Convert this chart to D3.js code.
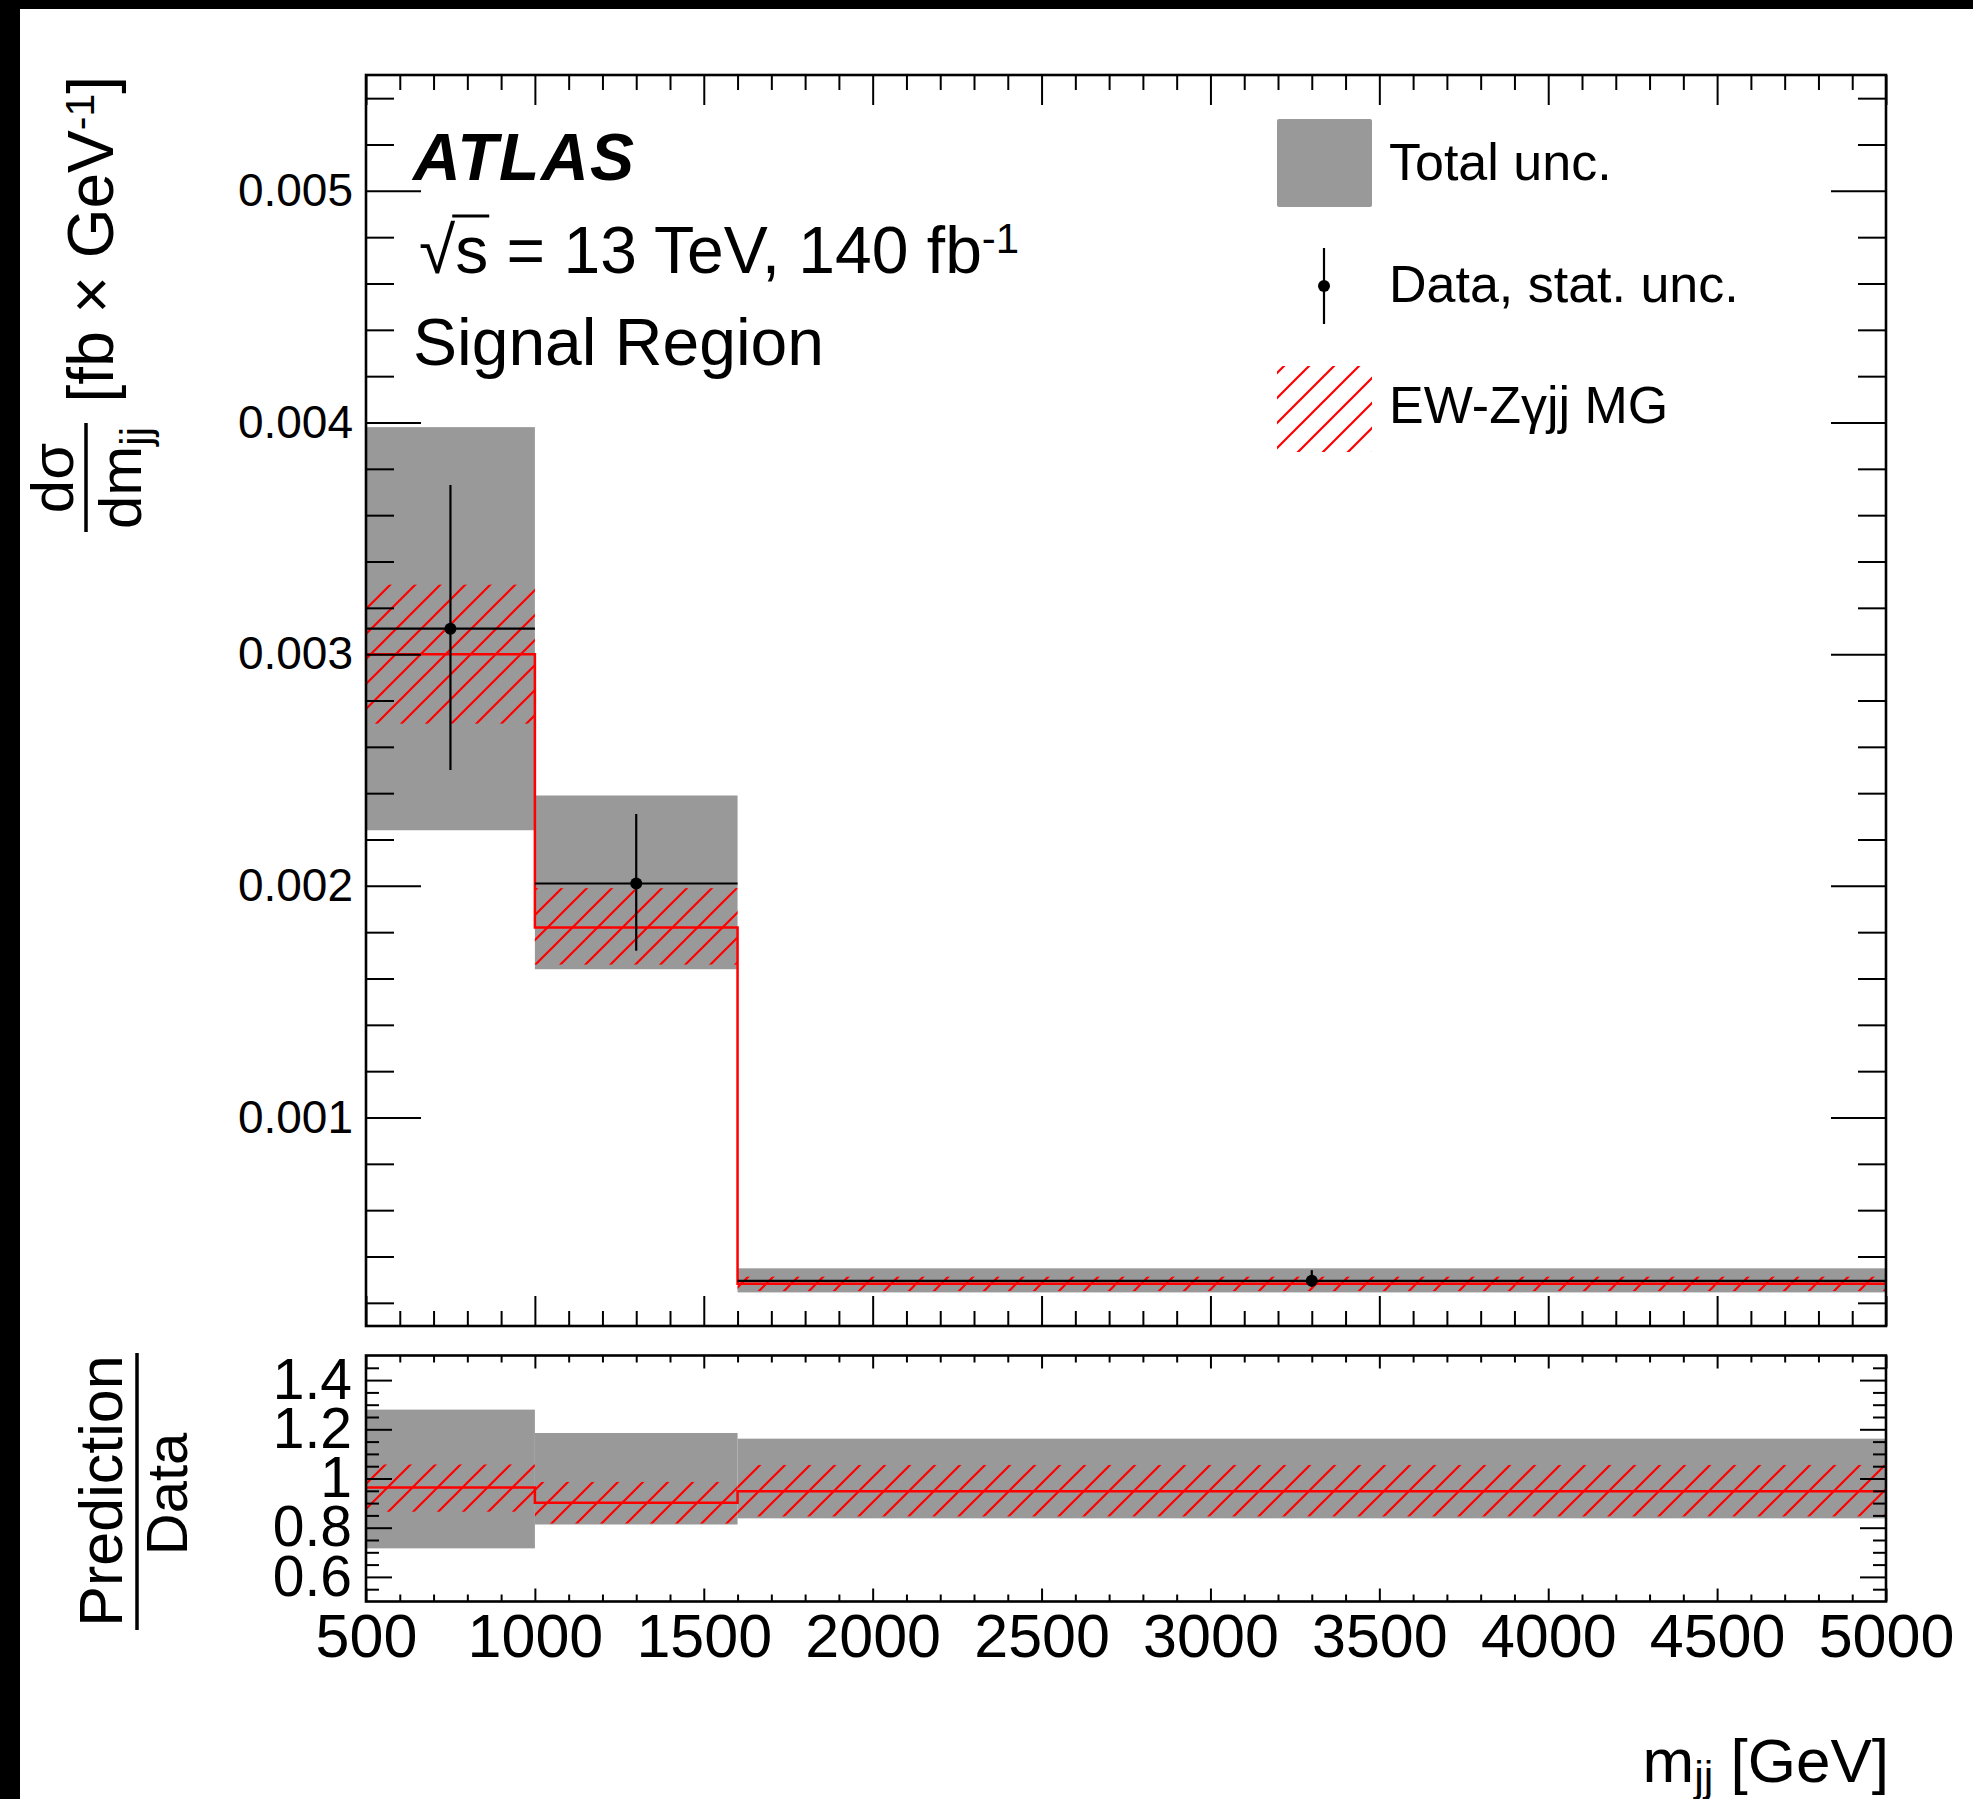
<!DOCTYPE html>
<html><head><meta charset="utf-8">
<script src="https://cdn.jsdelivr.net/npm/d3@7"></script>
<style>body{margin:0;background:#fff}svg{display:block}</style>
</head><body>
<svg id="c" width="1973" height="1799"></svg>
<script>
// ---------------- data ----------------
const binEdges = [500, 1000, 1600, 5000];
const binCenters = [750, 1300, 3300];
const dataValues = [0.00311, 0.00201, 0.000295];
const dataStatHigh = [0.00373, 0.00231, 0.000341];
const dataStatLow = [0.00250, 0.00172, 0.000270];
const totalUncHigh = [0.00398, 0.00239, 0.000349];
const totalUncLow = [0.00224, 0.00164, 0.000245];
const predValues = [0.00300, 0.00182, 0.000282];
const predHigh = [0.00330, 0.00199, 0.000313];
const predLow = [0.00270, 0.00166, 0.000251];
const ratioTotalHigh = [1.28, 1.185, 1.162];
const ratioTotalLow = [0.716, 0.813, 0.838];
const ratioPred = [0.963, 0.901, 0.948];
const ratioPredHigh = [1.057, 0.986, 1.055];
const ratioPredLow = [0.865, 0.817, 0.846];
const xTickValues = [500, 1000, 1500, 2000, 2500, 3000, 3500, 4000, 4500, 5000];
const xTickLabels = ["500", "1000", "1500", "2000", "2500", "3000", "3500", "4000", "4500", "5000"];
const yMainTicks = [0.001, 0.002, 0.003, 0.004, 0.005];
const yMainTickLabels = ["0.001", "0.002", "0.003", "0.004", "0.005"];
const yRatioTicks = [0.6, 0.8, 1, 1.2, 1.4];
const yRatioTickLabels = ["0.6", "0.8", "1", "1.2", "1.4"];
const legendLabels = ["Total unc.", "Data, stat. unc.", "EW-Z\u03B3jj MG"];

// ---------------- layout ----------------
const FONT = "'Liberation Sans', Arial, Helvetica, sans-serif";
const L = 366, R = 1886;
const mainTop = 75, mainBot = 1326;
const ratTop = 1355.5, ratBot = 1601.5;

const svg = d3.select("#c");
svg.append("rect").attr("width", 1973).attr("height", 1799).attr("fill", "#fff");

const defs = svg.append("defs");
const pat = defs.append("pattern").attr("id", "hatch")
  .attr("patternUnits", "userSpaceOnUse").attr("width", 25).attr("height", 25);
pat.append("path").attr("d", "M-5,5 L5,-5 M0,25 L25,0 M20,30 L30,20")
  .attr("stroke", "#ff0000").attr("stroke-width", 2.2).attr("fill", "none");

const x = d3.scaleLinear().domain([500, 5000]).range([L, R]);
const yM = d3.scaleLinear().domain([0.0001, 0.0055]).range([mainBot, mainTop]);
const yR = d3.scaleLinear().domain([0.5, 1.5]).range([ratBot, ratTop]);

const bins = d3.range(binCenters.length);

function styleAxis(g, fs) {
  g.select(".domain").remove();
  g.selectAll(".tick line").attr("stroke", "#000").attr("stroke-width", 2);
  g.selectAll(".tick text").attr("font-family", FONT).attr("font-size", fs).attr("fill", "#000");
  g.attr("font-family", null).attr("font-size", null);
}
function minorRange(a, b, step, majors) {
  return d3.range(a, b + step / 2, step).map(v => +v.toFixed(6))
    .filter(v => !majors.some(m => Math.abs(m - v) < step / 10));
}
const xMinor = minorRange(600, 4900, 100, xTickValues);
const yMMinor = minorRange(0.0002, 0.0054, 0.0002, yMainTicks);
const yRMinor = minorRange(0.55, 1.45, 0.05, [0.6, 0.8, 1.0, 1.2, 1.4]);

// ---------------- main panel ----------------
const main = svg.append("g");
main.selectAll("rect.tot").data(bins).join("rect").attr("class", "tot")
  .attr("x", i => x(binEdges[i])).attr("width", i => x(binEdges[i + 1]) - x(binEdges[i]))
  .attr("y", i => yM(totalUncHigh[i])).attr("height", i => yM(totalUncLow[i]) - yM(totalUncHigh[i]))
  .attr("fill", "#999999");
main.selectAll("rect.hat").data(bins).join("rect").attr("class", "hat")
  .attr("x", i => x(binEdges[i])).attr("width", i => x(binEdges[i + 1]) - x(binEdges[i]))
  .attr("y", i => yM(predHigh[i])).attr("height", i => yM(predLow[i]) - yM(predHigh[i]))
  .attr("fill", "url(#hatch)");
const stepPts = binEdges.map((e, k) => [e, predValues[Math.min(k, predValues.length - 1)]]);
main.append("path").datum(stepPts)
  .attr("d", d3.line().x(d => x(d[0])).y(d => yM(d[1])).curve(d3.curveStepAfter))
  .attr("fill", "none").attr("stroke", "#ff0000").attr("stroke-width", 2.5);
main.selectAll("line.dh").data(bins).join("line").attr("class", "dh")
  .attr("x1", i => x(binEdges[i])).attr("x2", i => x(binEdges[i + 1]))
  .attr("y1", i => yM(dataValues[i])).attr("y2", i => yM(dataValues[i]))
  .attr("stroke", "#000").attr("stroke-width", 2.2);
main.selectAll("line.dv").data(bins).join("line").attr("class", "dv")
  .attr("x1", i => x(binCenters[i])).attr("x2", i => x(binCenters[i]))
  .attr("y1", i => yM(dataStatHigh[i])).attr("y2", i => yM(dataStatLow[i]))
  .attr("stroke", "#000").attr("stroke-width", 2.2);
main.selectAll("circle.dp").data(bins).join("circle").attr("class", "dp")
  .attr("cx", i => x(binCenters[i])).attr("cy", i => yM(dataValues[i])).attr("r", 6).attr("fill", "#000");

styleAxis(svg.append("g").attr("transform", `translate(0,${mainBot})`)
  .call(d3.axisBottom(x).tickValues(xTickValues).tickSize(-30).tickFormat("")), 10);
styleAxis(svg.append("g").attr("transform", `translate(0,${mainBot})`)
  .call(d3.axisBottom(x).tickValues(xMinor).tickSize(-15).tickFormat("")), 10);
styleAxis(svg.append("g").attr("transform", `translate(0,${mainTop})`)
  .call(d3.axisTop(x).tickValues(xTickValues).tickSize(-30).tickFormat("")), 10);
styleAxis(svg.append("g").attr("transform", `translate(0,${mainTop})`)
  .call(d3.axisTop(x).tickValues(xMinor).tickSize(-15).tickFormat("")), 10);
styleAxis(svg.append("g").attr("transform", `translate(${L},0)`)
  .call(d3.axisLeft(yM).tickValues(yMainTicks).tickSize(-55).tickPadding(13)
    .tickFormat((d, i) => yMainTickLabels[i])), 46);
styleAxis(svg.append("g").attr("transform", `translate(${L},0)`)
  .call(d3.axisLeft(yM).tickValues(yMMinor).tickSize(-28).tickFormat("")), 10);
styleAxis(svg.append("g").attr("transform", `translate(${R},0)`)
  .call(d3.axisRight(yM).tickValues(yMainTicks).tickSize(-55).tickFormat("")), 10);
styleAxis(svg.append("g").attr("transform", `translate(${R},0)`)
  .call(d3.axisRight(yM).tickValues(yMMinor).tickSize(-28).tickFormat("")), 10);
svg.append("rect").attr("x", L).attr("y", mainTop).attr("width", R - L).attr("height", mainBot - mainTop)
  .attr("fill", "none").attr("stroke", "#000").attr("stroke-width", 2.6);

// ---------------- ratio panel ----------------
const rat = svg.append("g");
rat.selectAll("rect.tot").data(bins).join("rect").attr("class", "tot")
  .attr("x", i => x(binEdges[i])).attr("width", i => x(binEdges[i + 1]) - x(binEdges[i]))
  .attr("y", i => yR(ratioTotalHigh[i])).attr("height", i => yR(ratioTotalLow[i]) - yR(ratioTotalHigh[i]))
  .attr("fill", "#999999");
rat.selectAll("rect.hat").data(bins).join("rect").attr("class", "hat")
  .attr("x", i => x(binEdges[i])).attr("width", i => x(binEdges[i + 1]) - x(binEdges[i]))
  .attr("y", i => yR(ratioPredHigh[i])).attr("height", i => yR(ratioPredLow[i]) - yR(ratioPredHigh[i]))
  .attr("fill", "url(#hatch)");
const rPts = binEdges.map((e, k) => [e, ratioPred[Math.min(k, ratioPred.length - 1)]]);
rat.append("path").datum(rPts)
  .attr("d", d3.line().x(d => x(d[0])).y(d => yR(d[1])).curve(d3.curveStepAfter))
  .attr("fill", "none").attr("stroke", "#ff0000").attr("stroke-width", 2.5);

styleAxis(svg.append("g").attr("transform", `translate(0,${ratBot})`)
  .call(d3.axisBottom(x).tickValues(xTickValues).tickSize(-13).tickPadding(12)
    .tickFormat((d, i) => xTickLabels[i])), 61);
styleAxis(svg.append("g").attr("transform", `translate(0,${ratBot})`)
  .call(d3.axisBottom(x).tickValues(xMinor).tickSize(-7).tickFormat("")), 10);
styleAxis(svg.append("g").attr("transform", `translate(0,${ratTop})`)
  .call(d3.axisTop(x).tickValues(xTickValues).tickSize(-13).tickFormat("")), 10);
styleAxis(svg.append("g").attr("transform", `translate(0,${ratTop})`)
  .call(d3.axisTop(x).tickValues(xMinor).tickSize(-7).tickFormat("")), 10);
styleAxis(svg.append("g").attr("transform", `translate(${L},0)`)
  .call(d3.axisLeft(yR).tickValues(yRatioTicks).tickSize(-26).tickPadding(14)
    .tickFormat((d, i) => yRatioTickLabels[i])), 57);
styleAxis(svg.append("g").attr("transform", `translate(${L},0)`)
  .call(d3.axisLeft(yR).tickValues(yRMinor).tickSize(-13).tickFormat("")), 10);
styleAxis(svg.append("g").attr("transform", `translate(${R},0)`)
  .call(d3.axisRight(yR).tickValues(yRatioTicks).tickSize(-26).tickFormat("")), 10);
styleAxis(svg.append("g").attr("transform", `translate(${R},0)`)
  .call(d3.axisRight(yR).tickValues(yRMinor).tickSize(-13).tickFormat("")), 10);
svg.append("rect").attr("x", L).attr("y", ratTop).attr("width", R - L).attr("height", ratBot - ratTop)
  .attr("fill", "none").attr("stroke", "#000").attr("stroke-width", 2.6);

// ---------------- texts ----------------
function txt(xp, yp, s, fs, opts = {}) {
  const t = svg.append("text").attr("x", xp).attr("y", yp).attr("font-family", FONT)
    .attr("font-size", fs).attr("fill", "#000")
    .attr("font-weight", opts.weight || "normal").attr("font-style", opts.style || "normal")
    .attr("text-anchor", opts.anchor || "start").text(s);
  if (opts.ls) t.attr("letter-spacing", opts.ls);
  return t;
}
txt(413, 180, "ATLAS", 66, {weight: "bold", style: "italic", ls: 1.5});
const st = svg.append("text").attr("x", 419).attr("y", 273).attr("font-family", FONT)
  .attr("font-size", 66).attr("fill", "#000");
st.append("tspan").text("\u221A");
st.append("tspan").text("s");
st.append("tspan").text(" = 13 TeV, 140 fb");
st.append("tspan").attr("font-size", 42).attr("dy", -20).text("-1");
{
  const node = st.node();
  const sx = node.getStartPositionOfChar(1).x;
  const sw = node.getSubStringLength(1, 1);
  const rx = node.getStartPositionOfChar(0).x + node.getSubStringLength(0, 1);
  svg.append("line").attr("x1", rx - 3).attr("x2", sx + sw + 1).attr("y1", 216).attr("y2", 216)
    .attr("stroke", "#000").attr("stroke-width", 3);
}
txt(413, 365, "Signal Region", 66);

// legend
svg.append("rect").attr("x", 1277).attr("y", 119).attr("width", 95).attr("height", 88).attr("rx", 2)
  .attr("fill", "#999999");
svg.append("line").attr("x1", 1324).attr("x2", 1324).attr("y1", 248).attr("y2", 324)
  .attr("stroke", "#000").attr("stroke-width", 2.2);
svg.append("circle").attr("cx", 1324).attr("cy", 286).attr("r", 6).attr("fill", "#000");
svg.append("rect").attr("x", 1277).attr("y", 366).attr("width", 95).attr("height", 86)
  .attr("fill", "url(#hatch)");
[180, 302, 423].forEach((yy, i) => txt(1389, yy, legendLabels[i], 52));

// x title
const xt = svg.append("text").attr("x", 1889).attr("y", 1782).attr("font-family", FONT)
  .attr("font-size", 62).attr("fill", "#000").attr("text-anchor", "end");
xt.append("tspan").text("m");
xt.append("tspan").attr("font-size", 43).attr("dy", 9).text("jj");
xt.append("tspan").attr("dy", -9).text(" [GeV]");

// y title (main)
const yt = svg.append("g");
function rtext(xp, yp, anchor, fs) {
  return yt.append("text").attr("transform", `translate(${xp},${yp}) rotate(-90)`)
    .attr("font-family", FONT).attr("font-size", fs).attr("fill", "#000").attr("text-anchor", anchor);
}
rtext(73, 478, "middle", 60).text("d\u03C3");
yt.append("line").attr("x1", 86).attr("x2", 86).attr("y1", 423).attr("y2", 532)
  .attr("stroke", "#000").attr("stroke-width", 3.5);
{
  const t = rtext(141, 478, "middle", 60);
  t.append("tspan").text("dm");
  t.append("tspan").attr("font-size", 42).attr("dy", 9).text("jj");
}
{
  const t = rtext(113, 76, "end", 64);
  t.append("tspan").text("[fb \u00D7 GeV");
  t.append("tspan").attr("font-size", 41).attr("dy", -19).text("-1");
  t.append("tspan").attr("dy", 19).text("]");
}
// ratio title
{
  const g = svg.append("g");
  g.append("text").attr("transform", "translate(122,1491) rotate(-90)").attr("font-family", FONT)
    .attr("font-size", 61).attr("text-anchor", "middle").attr("fill", "#000").text("Prediction");
  g.append("line").attr("x1", 137).attr("x2", 137).attr("y1", 1353).attr("y2", 1630)
    .attr("stroke", "#000").attr("stroke-width", 3.5);
  g.append("text").attr("transform", "translate(187,1494) rotate(-90)").attr("font-family", FONT)
    .attr("font-size", 58).attr("text-anchor", "middle").attr("fill", "#000").text("Data");
}

// black border bands (top and left)
svg.append("rect").attr("x", 0).attr("y", 0).attr("width", 1973).attr("height", 9).attr("fill", "#000");
svg.append("rect").attr("x", 0).attr("y", 0).attr("width", 20).attr("height", 1799).attr("fill", "#000");
</script>
</body></html>
